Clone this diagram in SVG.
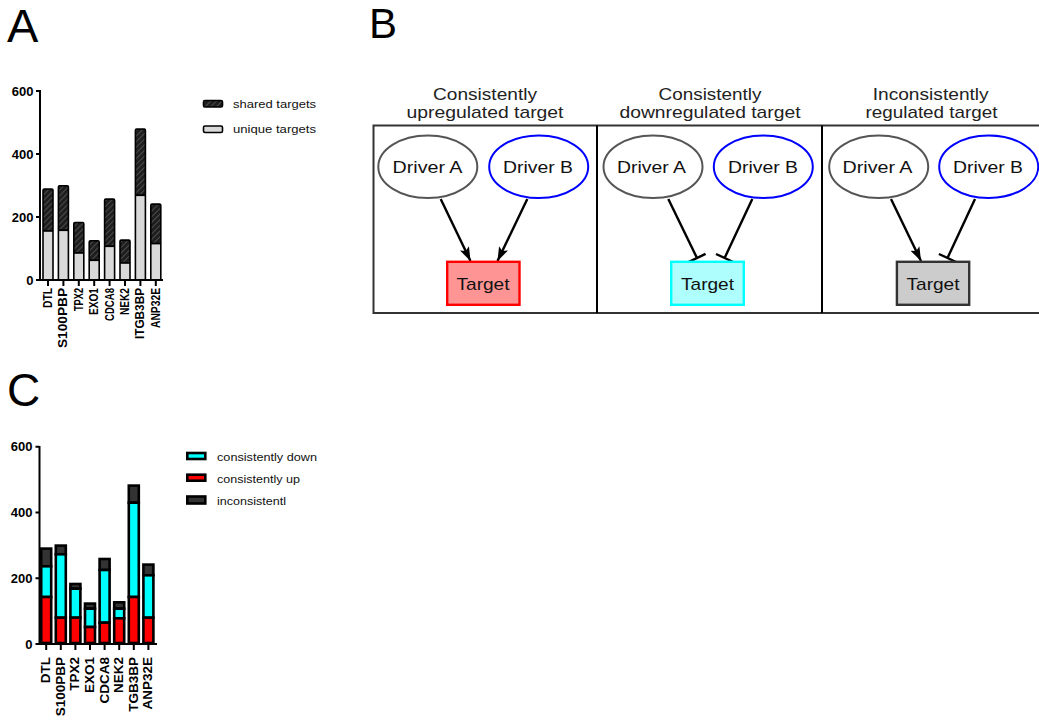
<svg xmlns="http://www.w3.org/2000/svg" width="1039" height="721" viewBox="0 0 1039 721">
<style>
.letter{font-family:"Liberation Sans",Arial,sans-serif;fill:#000}
.tick{font-family:"Liberation Sans",Arial,sans-serif;font-weight:bold;font-size:13px;text-anchor:end}
.xa{font-family:"Liberation Sans",Arial,sans-serif;font-weight:bold;font-size:12px;text-anchor:end}
.xc{font-family:"Liberation Sans",Arial,sans-serif;font-weight:bold;font-size:13.5px;text-anchor:end}
.leg{font-family:"Liberation Sans",Arial,sans-serif;font-size:11px;fill:#111}
.axis{stroke:#000;stroke-width:2;fill:none}
.sh{fill:url(#hatch);stroke:#000;stroke-width:1.6}
.un{fill:#d9d9d9;stroke:#000;stroke-width:1.6}
.cd{fill:#00ffff;stroke:#000;stroke-width:2.6}
.cu{fill:#ff0000;stroke:#000;stroke-width:2.6}
.ic{fill:#333;stroke:#000;stroke-width:2.6}
.title{font-family:"Liberation Sans",Arial,sans-serif;font-size:17px;text-anchor:middle;fill:#222}
.lbl{font-family:"Liberation Sans",Arial,sans-serif;font-size:17px;text-anchor:middle;fill:#111}
.drvA{fill:#fff;stroke:#555;stroke-width:2}
.drvB{fill:#fff;stroke:#0000ff;stroke-width:2}
.edge{stroke:#000;stroke-width:2.4;fill:none}
</style>
<defs>
<pattern id="hatch" patternUnits="userSpaceOnUse" width="4" height="4" patternTransform="rotate(45)">
<rect width="4" height="4" fill="#1e1e1e"/>
<line x1="0" y1="0" x2="0" y2="4" stroke="#6a6a6a" stroke-width="1.2"/>
</pattern>
<marker id="arrow" markerUnits="userSpaceOnUse" viewBox="0 0 14 10" refX="14" refY="5" markerWidth="14" markerHeight="10" orient="auto">
<path d="M0,0 L14,5 L0,10 L3,5 Z" fill="#000"/>
</marker>
<marker id="tee" markerUnits="userSpaceOnUse" viewBox="-2 -10 4 20" refX="0" refY="0" markerWidth="4" markerHeight="20" orient="auto">
<line x1="0" y1="-9.5" x2="0" y2="9.5" stroke="#000" stroke-width="2.4"/>
</marker>
</defs>
<rect width="1039" height="721" fill="#fff"/>

<text class="letter" x="7" y="42" font-size="47">A</text>
<text class="letter" x="369" y="38" font-size="42">B</text>
<text class="letter" x="7" y="406" font-size="46">C</text>

<!-- Panel A -->
<g id="panelA">
<g id="barsA">
<rect class="sh" x="43" y="189" width="10" height="42" rx="1.2"/><rect class="un" x="43" y="231" width="10" height="49"/>
<rect class="sh" x="58.4" y="185.8" width="10" height="44.5" rx="1.2"/><rect class="un" x="58.4" y="230.3" width="10" height="49.7"/>
<rect class="sh" x="73.8" y="222.5" width="10" height="30.5" rx="1.2"/><rect class="un" x="73.8" y="253" width="10" height="27"/>
<rect class="sh" x="89.2" y="240.8" width="10" height="19.5" rx="1.2"/><rect class="un" x="89.2" y="260.3" width="10" height="19.7"/>
<rect class="sh" x="104.6" y="199.1" width="10" height="47.2" rx="1.2"/><rect class="un" x="104.6" y="246.3" width="10" height="33.7"/>
<rect class="sh" x="120" y="240.1" width="10" height="22.9" rx="1.2"/><rect class="un" x="120" y="263" width="10" height="17"/>
<rect class="sh" x="135.4" y="129.1" width="10" height="66.2" rx="1.2"/><rect class="un" x="135.4" y="195.3" width="10" height="84.7"/>
<rect class="sh" x="150.8" y="204.1" width="10" height="39.5" rx="1.2"/><rect class="un" x="150.8" y="243.6" width="10" height="36.4"/>
</g>
<g id="axesA">
<path class="axis" d="M40,90 V281 M36,91 H40 M36,154 H40 M36,217 H40 M36,280 H40 M39,280 H163"/>
<path class="axis" d="M48,280 V286 M63.4,280 V286 M78.8,280 V286 M94.2,280 V286 M109.6,280 V286 M125,280 V286 M140.4,280 V286 M155.8,280 V286"/>
<text class="tick" x="33.5" y="95.7">600</text>
<text class="tick" x="33.5" y="158.7">400</text>
<text class="tick" x="33.5" y="221.7">200</text>
<text class="tick" x="33.5" y="284.7">0</text>
<text class="xa" transform="translate(52,288) rotate(-90)" textLength="20" lengthAdjust="spacingAndGlyphs">DTL</text>
<text class="xa" transform="translate(67.4,288) rotate(-90)" textLength="60" lengthAdjust="spacingAndGlyphs">S100PBP</text>
<text class="xa" transform="translate(82.8,288) rotate(-90)" textLength="23" lengthAdjust="spacingAndGlyphs">TPX2</text>
<text class="xa" transform="translate(98.2,288) rotate(-90)" textLength="27" lengthAdjust="spacingAndGlyphs">EXO1</text>
<text class="xa" transform="translate(113.6,288) rotate(-90)" textLength="33" lengthAdjust="spacingAndGlyphs">CDCA8</text>
<text class="xa" transform="translate(129,288) rotate(-90)" textLength="27" lengthAdjust="spacingAndGlyphs">NEK2</text>
<text class="xa" transform="translate(144.4,288) rotate(-90)" textLength="51" lengthAdjust="spacingAndGlyphs">ITGB3BP</text>
<text class="xa" transform="translate(159.8,288) rotate(-90)" textLength="40" lengthAdjust="spacingAndGlyphs">ANP32E</text>
</g>
<g id="legendA">
<rect class="sh" x="203.5" y="100.5" width="19" height="6.5" rx="1.5"/>
<text class="leg" x="233" y="107.5" textLength="83" lengthAdjust="spacingAndGlyphs">shared targets</text>
<rect class="un" x="203.5" y="126" width="19" height="6.5" rx="1.5"/>
<text class="leg" x="233" y="133" textLength="83" lengthAdjust="spacingAndGlyphs">unique targets</text>
</g>
</g>

<!-- Panel C -->
<g id="panelC">
<g id="barsC">
<rect class="ic" x="41.2" y="548.6" width="10" height="17.7"/><rect class="cd" x="41.2" y="566.3" width="10" height="30.7"/><rect class="cu" x="41.2" y="597" width="10" height="46"/>
<rect class="ic" x="55.8" y="545.6" width="10" height="8.7"/><rect class="cd" x="55.8" y="554.3" width="10" height="63.4"/><rect class="cu" x="55.8" y="617.7" width="10" height="25.3"/>
<rect class="ic" x="70.4" y="584" width="10" height="4.7"/><rect class="cd" x="70.4" y="588.7" width="10" height="29"/><rect class="cu" x="70.4" y="617.7" width="10" height="25.3"/>
<rect class="ic" x="85" y="603.6" width="10" height="5.1"/><rect class="cd" x="85" y="608.7" width="10" height="18.3"/><rect class="cu" x="85" y="627" width="10" height="16"/>
<rect class="ic" x="99.6" y="559" width="10" height="11"/><rect class="cd" x="99.6" y="570" width="10" height="52.7"/><rect class="cu" x="99.6" y="622.7" width="10" height="20.3"/>
<rect class="ic" x="114.2" y="602.3" width="10" height="6.4"/><rect class="cd" x="114.2" y="608.7" width="10" height="9.6"/><rect class="cu" x="114.2" y="618.3" width="10" height="24.7"/>
<rect class="ic" x="128.8" y="485.6" width="10" height="17.1"/><rect class="cd" x="128.8" y="502.7" width="10" height="94.3"/><rect class="cu" x="128.8" y="597" width="10" height="46"/>
<rect class="ic" x="143.4" y="564.6" width="10" height="10.7"/><rect class="cd" x="143.4" y="575.3" width="10" height="42.4"/><rect class="cu" x="143.4" y="617.7" width="10" height="25.3"/>
</g>
<g id="axesC">
<path class="axis" d="M39.5,446 V645 M35.5,446.7 H39.5 M35.5,512.5 H39.5 M35.5,578.3 H39.5 M35.5,644 H39.5 M38.5,644 H157"/>
<path class="axis" d="M46.2,644 V650 M60.8,644 V650 M75.4,644 V650 M90,644 V650 M104.6,644 V650 M119.2,644 V650 M133.8,644 V650 M148.4,644 V650"/>
<text class="tick" x="32.5" y="451.4">600</text>
<text class="tick" x="32.5" y="517.2">400</text>
<text class="tick" x="32.5" y="583">200</text>
<text class="tick" x="32.5" y="648.7">0</text>
<text class="xc" transform="translate(50.2,657) rotate(-90)">DTL</text>
<text class="xc" transform="translate(64.8,657) rotate(-90)">S100PBP</text>
<text class="xc" transform="translate(79.4,657) rotate(-90)">TPX2</text>
<text class="xc" transform="translate(94,657) rotate(-90)">EXO1</text>
<text class="xc" transform="translate(108.6,657) rotate(-90)">CDCA8</text>
<text class="xc" transform="translate(123.2,657) rotate(-90)">NEK2</text>
<text class="xc" transform="translate(137.8,657) rotate(-90)">TGB3BP</text>
<text class="xc" transform="translate(152.4,657) rotate(-90)">ANP32E</text>
</g>
<g id="legendC">
<rect class="cd" x="187.3" y="453" width="18" height="6"/>
<text class="leg" x="217" y="460.5" textLength="100" lengthAdjust="spacingAndGlyphs">consistently down</text>
<rect class="cu" x="187.3" y="474.7" width="18" height="6"/>
<text class="leg" x="217" y="482.5" textLength="83" lengthAdjust="spacingAndGlyphs">consistently up</text>
<rect class="ic" x="187.3" y="496.5" width="18" height="7"/>
<text class="leg" x="217" y="505" textLength="69" lengthAdjust="spacingAndGlyphs">inconsistentl</text>
</g>
</g>

<!-- Panel B -->
<g id="panelB">
<g id="frame">
<rect x="373.5" y="125.5" width="668" height="187.5" fill="none" stroke="#333" stroke-width="2"/>
<line x1="597" y1="125.5" x2="597" y2="313" stroke="#000" stroke-width="2"/>
<line x1="822" y1="125.5" x2="822" y2="313" stroke="#000" stroke-width="2"/>
</g>
<g id="titles">
<text class="title" x="485" y="100" textLength="104" lengthAdjust="spacingAndGlyphs">Consistently</text>
<text class="title" x="485" y="118" textLength="157" lengthAdjust="spacingAndGlyphs">upregulated target</text>
<text class="title" x="710" y="100" textLength="103" lengthAdjust="spacingAndGlyphs">Consistently</text>
<text class="title" x="710" y="118" textLength="181" lengthAdjust="spacingAndGlyphs">downregulated target</text>
<text class="title" x="930.7" y="100" textLength="116" lengthAdjust="spacingAndGlyphs">Inconsistently</text>
<text class="title" x="931.5" y="118" textLength="132" lengthAdjust="spacingAndGlyphs">regulated target</text>
</g>

<g id="connectors">
<line class="edge" x1="440.7" y1="199" x2="470.5" y2="261" marker-end="url(#arrow)"/>
<line class="edge" x1="527.3" y1="199" x2="497.5" y2="261" marker-end="url(#arrow)"/>
<line class="edge" x1="668.3" y1="199" x2="697" y2="258" marker-end="url(#tee)"/>
<line class="edge" x1="752.3" y1="199" x2="724.6" y2="258" marker-end="url(#tee)"/>
<line class="edge" x1="891" y1="199" x2="921" y2="261" marker-end="url(#arrow)"/>
<line class="edge" x1="975" y1="199" x2="947.5" y2="258" marker-end="url(#tee)"/>
</g>

<g id="p1DriverA"><ellipse class="drvA" cx="427.8" cy="166.7" rx="49.5" ry="31.3"/><text class="lbl" x="427.5" y="173.3" textLength="70" lengthAdjust="spacingAndGlyphs">Driver A</text></g>
<g id="p1DriverB"><ellipse class="drvB" cx="538.7" cy="166.7" rx="49.5" ry="31.3"/><text class="lbl" x="538" y="173.3" textLength="70" lengthAdjust="spacingAndGlyphs">Driver B</text></g>
<g id="p1Target"><rect x="447.2" y="261.8" width="72.3" height="43" fill="#ff9494" stroke="#ff0000" stroke-width="2.4"/><text class="lbl" x="483" y="290" textLength="53" lengthAdjust="spacingAndGlyphs">Target</text></g>

<g id="p2DriverA"><ellipse class="drvA" cx="653" cy="166.7" rx="49.5" ry="31.3"/><text class="lbl" x="651.5" y="173.3" textLength="69" lengthAdjust="spacingAndGlyphs">Driver A</text></g>
<g id="p2DriverB"><ellipse class="drvB" cx="763.3" cy="166.7" rx="49.5" ry="31.3"/><text class="lbl" x="763" y="173.3" textLength="70" lengthAdjust="spacingAndGlyphs">Driver B</text></g>
<g id="p2Target"><rect x="671.2" y="261.8" width="72.6" height="43" fill="#aefefe" stroke="#00ffff" stroke-width="2.4"/><text class="lbl" x="707.5" y="290" textLength="53" lengthAdjust="spacingAndGlyphs">Target</text></g>

<g id="p3DriverA"><ellipse class="drvA" cx="878.7" cy="166.7" rx="49.5" ry="31.3"/><text class="lbl" x="877.5" y="173.3" textLength="70" lengthAdjust="spacingAndGlyphs">Driver A</text></g>
<g id="p3DriverB"><ellipse class="drvB" cx="988.7" cy="166.7" rx="49.5" ry="31.3"/><text class="lbl" x="988" y="173.3" textLength="70" lengthAdjust="spacingAndGlyphs">Driver B</text></g>
<g id="p3Target"><rect x="896.9" y="261.8" width="72.3" height="43" fill="#cccccc" stroke="#333" stroke-width="2.4"/><text class="lbl" x="933" y="290" textLength="53" lengthAdjust="spacingAndGlyphs">Target</text></g>
</g>
</svg>
